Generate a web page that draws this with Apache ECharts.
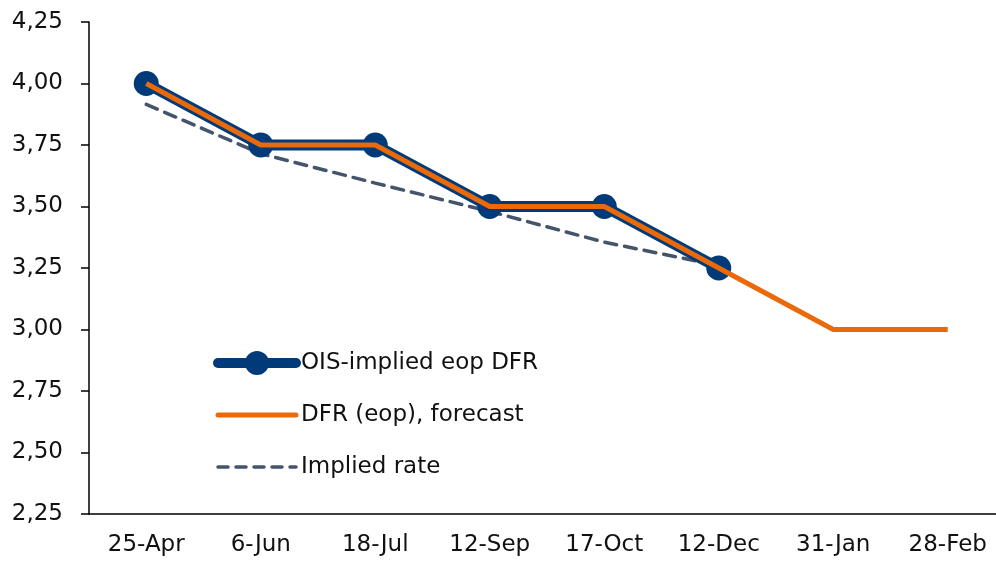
<!DOCTYPE html>
<html>
<head>
<meta charset="utf-8">
<script src="https://cdn.jsdelivr.net/npm/echarts@6/dist/echarts.min.js"></script>
<style>
  html, body { margin: 0; padding: 0; background: #fff; }
  #chart { width: 996px; height: 561px; }
</style>
</head>
<body>
<div id="chart"></div>
<script>
const categories = ["25-Apr", "6-Jun", "18-Jul", "12-Sep", "17-Oct", "12-Dec", "31-Jan", "28-Feb"];
const oisImplied = [4.0, 3.75, 3.75, 3.5, 3.5, 3.25, null, null];
const dfrForecast = [4.0, 3.75, 3.75, 3.5, 3.5, 3.25, 3.0, 3.0];
const impliedRate = [3.915, 3.715, 3.595, 3.48, 3.355, 3.26, null, null];

const font = "'DejaVu Sans', sans-serif";
const navy = "#003A78";
const orange = "#EA6A0A";
const slate = "#44546A";
const hidden = { color: "rgba(0,0,0,0)", borderColor: "rgba(0,0,0,0)", borderWidth: 0 };
const chart = echarts.init(document.getElementById("chart"));

chart.setOption({
  animation: false,
  backgroundColor: "#fff",
  textStyle: { fontFamily: font },
  grid: { left: 89, width: 916, top: 22, bottom: 47, outerBoundsMode: "none", containLabel: false },
  legend: {
    orient: "vertical",
    left: 208,
    top: 346,
    itemWidth: 78,
    itemHeight: 30,
    itemGap: 28,
    textStyle: { fontSize: 23, color: "#111", fontFamily: font, padding: [0, 0, 0, 0] },
    data: [
      { name: "OIS-implied eop DFR", lineStyle: { width: 10, color: navy, cap: "round" }, itemStyle: { color: navy } },
      { name: "DFR (eop), forecast", lineStyle: { width: 5, color: orange, cap: "round" }, itemStyle: hidden },
      { name: "Implied rate", lineStyle: { width: 3.5, color: slate, type: [10, 8], cap: "round" }, itemStyle: hidden },
    ],
  },
  xAxis: {
    type: "category",
    data: categories,
    boundaryGap: true,
    axisLine: { lineStyle: { color: "#000", width: 1.5 } },
    axisTick: { show: false },
    axisLabel: { color: "#111", fontSize: 23, margin: 20, fontFamily: font },
  },
  yAxis: {
    type: "value",
    min: 2.25,
    max: 4.25,
    interval: 0.25,
    axisLine: { show: true, lineStyle: { color: "#000", width: 1.5 } },
    axisTick: { show: true, inside: false, length: 8, lineStyle: { color: "#000", width: 1.5 } },
    axisLabel: {
      color: "#111",
      fontSize: 23,
      margin: 26,
      fontFamily: font,
      formatter: (v) => v.toFixed(2).replace(".", ","),
    },
    splitLine: { show: false },
  },
  series: [
    {
      name: "OIS-implied eop DFR",
      type: "line",
      data: oisImplied,
      symbol: "circle",
      symbolSize: 25,
      showSymbol: true,
      lineStyle: { color: navy, width: 11, join: "round" },
      itemStyle: { color: navy },
      z: 2,
    },
    {
      name: "DFR (eop), forecast",
      type: "line",
      data: dfrForecast,
      symbol: "none",
      lineStyle: { color: orange, width: 5 },
      itemStyle: { color: orange },
      z: 3,
    },
    {
      name: "Implied rate",
      type: "line",
      data: impliedRate,
      symbol: "none",
      lineStyle: { color: slate, width: 3.5, type: [12, 8], cap: "round" },
      itemStyle: { color: slate },
      z: 1,
    },
  ],
});
</script>
</body>
</html>
